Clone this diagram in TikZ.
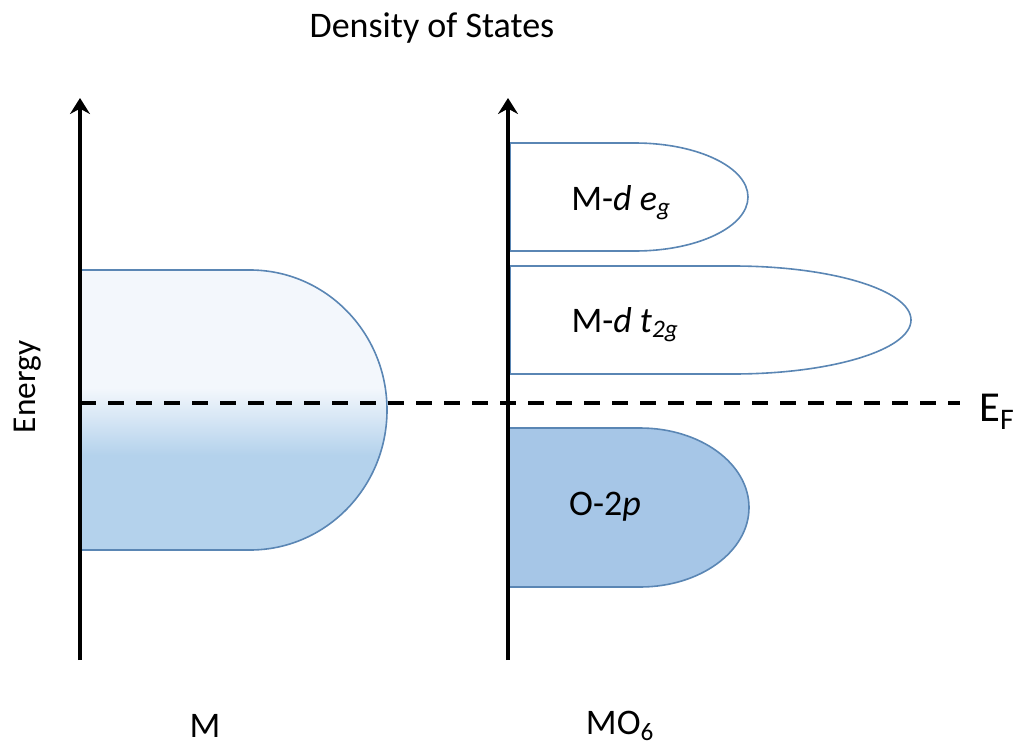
\documentclass[tikz,border=0pt]{standalone}
\usepackage{fontspec}
\setmainfont{Carlito}
\usetikzlibrary{arrows.meta}

\definecolor{bandline}{RGB}{90,134,180}
\definecolor{ofill}{RGB}{166,198,231}
\definecolor{mlow}{RGB}{180,210,236}
\definecolor{mtop}{RGB}{243,247,252}

\begin{document}
\begin{tikzpicture}[
    x=0.75pt,y=-0.75pt,
    line cap=butt,
    line join=round,
    axis/.style={draw=black, line width=2.8pt, -{Stealth[length=12pt,width=15pt,inset=4pt]}},
    band/.style={draw=bandline, line width=1.2pt},
    fermi/.style={draw=black, line width=2.8pt, dash pattern=on 12pt off 9pt},
    lbl/.style={inner sep=0pt, font=\fontsize{27}{32}\selectfont}
]
\useasboundingbox (0,0) rectangle (1027,746);

% axes
\coordinate (Mbot) at (80,660);
\coordinate (Mtop) at (80,98);
\coordinate (Obot) at (508,660);
\coordinate (Otop) at (508,98);

% metal band with gradient
\begin{scope}
  \clip (80,270) -- (250,270) arc[start angle=-90, end angle=90, x radius=137, y radius=140] -- (80,550) -- cycle;
  \fill[mtop] (80,260) rectangle (400,388);
  \shade[top color=mtop, bottom color=mlow] (80,388) rectangle (400,455);
  \fill[mlow] (80,455) rectangle (400,560);
\end{scope}
\draw[band] (80,270) -- (250,270) arc[start angle=-90, end angle=90, x radius=137, y radius=140] -- (80,550);

% oxide bands
\draw[band, fill=white] (510,251) -- (510,143) -- (635,143) arc[start angle=-90, end angle=90, x radius=113, y radius=54] -- cycle;
\draw[band, fill=white] (510,374) -- (510,266) -- (733,266) arc[start angle=-90, end angle=90, x radius=178, y radius=54] -- cycle;
\draw[band, fill=ofill] (508,587) -- (508,428) -- (640,428) arc[start angle=-90, end angle=90, x radius=109, y radius=79.5] -- cycle;

% Fermi level
\coordinate (EFl) at (80,403);
\coordinate (EFr) at (960,403);
\draw[fermi] (EFl) -- (EFr);

\draw[axis] (Mbot) -- (Mtop);
\draw[axis] (Obot) -- (Otop);

\node[lbl] (eg) at (621,203) {M-\textit{d} \textit{e}\textsubscript{\textit{g}}};
\node[lbl] (t2g) at (625,325) {M-\textit{d} \textit{t}\textsubscript{\textit{2g}}};
\node[lbl] (op) at (605,507) {O-2\textit{p}};

\node[lbl, font=\fontsize{32}{38}\selectfont] (EF) at (997,412) {E\textsubscript{F}};
\node[lbl] (dos) at (432,28) {Density of States};
\node[lbl, rotate=90, font=\fontsize{25}{30}\selectfont] (energy) at (28,387) {Energy};
\node[lbl] (mlabel) at (205,726) {M};
\node[lbl] (molabel) at (620,726) {MO\textsubscript{6}};
\end{tikzpicture}
\end{document}
